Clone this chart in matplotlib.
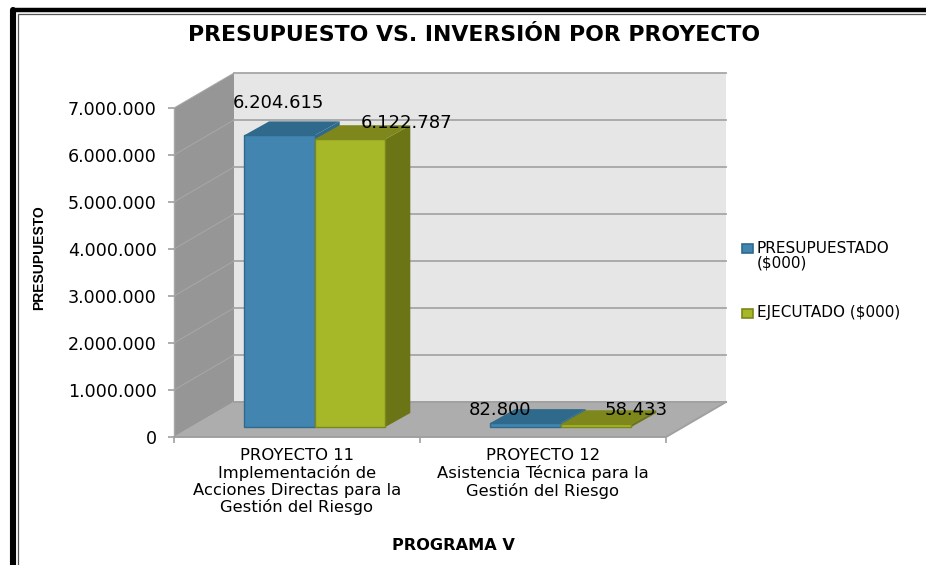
import matplotlib
matplotlib.use("Agg")
import matplotlib.pyplot as plt
from matplotlib.patches import Polygon, Rectangle

# data
categories = [
    "PROYECTO 11\nImplementación de\nAcciones Directas para la\nGestión del Riesgo",
    "PROYECTO 12\nAsistencia Técnica para la\nGestión del Riesgo",
]
presupuestado = [6204615, 82800]
ejecutado = [6122787, 58433]
value_labels = [["6.204.615", "82.800"], ["6.122.787", "58.433"]]
series_names = ["PRESUPUESTADO\n($000)", "EJECUTADO ($000)"]
yticks = [0, 1000000, 2000000, 3000000, 4000000, 5000000, 6000000, 7000000]
ytick_labels = ["0", "1.000.000", "2.000.000", "3.000.000", "4.000.000",
                "5.000.000", "6.000.000", "7.000.000"]

W, H = 926, 565
FONT = "DejaVu Sans"

# front plane of the chart in pixels
X0, X1, Y0, Y1 = 174, 666, 437, 108
DEPTH_X, DEPTH_Y = 60, 35  # px offset of the back wall
BAR_DX, BAR_DY = 25, 14  # px depth of each bar
BAR_OFF_X, BAR_OFF_Y = 15, 10  # px from the front edge of the floor to the bars

fig = plt.figure(figsize=(W / 100, H / 100), dpi=100, facecolor="white")
ax = fig.add_axes([X0 / W, 1 - Y0 / H, (X1 - X0) / W, (Y0 - Y1) / H])
ax.set_xlim(0, 2)
ax.set_ylim(0, 7000000)
ax.patch.set_visible(False)
for s in ax.spines.values():
    s.set_visible(False)

ux = 2 / (X1 - X0)  # data per px
uy = 7000000 / (Y0 - Y1)


def shift(x, y, dx, dy):
    # move a front plane point back into the depth, dx/dy in pixels
    return (x + dx * ux, y + dy * uy)


def poly(points, color, z, edge=None, lw=0.0):
    ax.add_patch(Polygon(points, closed=True, facecolor=color, edgecolor=edge or color,
                         linewidth=lw, zorder=z, clip_on=False))


def back(x, y):
    return shift(x, y, DEPTH_X, DEPTH_Y)


# walls and floor
poly([(0, 0), back(0, 0), back(0, 7000000), (0, 7000000)], "#969696", 1)
poly([back(0, 0), back(2, 0), back(2, 7000000), back(0, 7000000)], "#E6E6E6", 1)
poly([(0, 0), (2, 0), back(2, 0), back(0, 0)], "#ADADAD", 2)

# gridlines
for v in yticks:
    ax.plot(*zip((0, v), back(0, v)), color="#A8A8A8", lw=0.7, zorder=1.5, clip_on=False)
    ax.plot(*zip(back(0, v), back(2, v)), color="#A6A6A6", lw=1.3, zorder=1.5, clip_on=False)
ax.plot(*zip(back(0, 0), back(2, 0)), color="#A0A0A0", lw=1.3, zorder=3, clip_on=False)
ax.plot([0, 0], [0, 7000000], color="#A6A6A6", lw=1.0, zorder=3, clip_on=False)
ax.plot(*zip((0, 0), (2, 0), back(2, 0)), color="#A0A0A0", lw=1.4, zorder=3, clip_on=False)


def bar3d(x, w, v, front, top, side, z):
    base = lambda a, b: shift(a, b, BAR_OFF_X, BAR_OFF_Y)
    p0, p1 = base(x, 0), base(x + w, 0)
    p2, p3 = base(x + w, v), base(x, v)
    poly([p2, shift(*p2, BAR_DX, BAR_DY), shift(*p1, BAR_DX, BAR_DY), p1], side, z)
    poly([p3, p2, shift(*p2, BAR_DX, BAR_DY), shift(*p3, BAR_DX, BAR_DY)], top, z)
    poly([p0, p1, p2, p3], front, z + 0.1, edge=top, lw=1.0)


bar_w = 0.287
gap = 0.224
for i in range(2):
    bar3d(i + gap, bar_w, presupuestado[i], "#4285B0", "#2F6A8C", "#2F6A8C", 5)
    bar3d(i + gap + bar_w, bar_w, ejecutado[i], "#A6B727", "#7D871B", "#6B7515", 6)

# value labels, offsets in px from the top front centre of each bar
offsets = [[(-1, 32), (-25, 13)], [(57, 16), (40, 14)]]
for k, vals in enumerate([presupuestado, ejecutado]):
    for i, v in enumerate(vals):
        cx, cy = shift(i + gap + bar_w * (k + 0.5), v, BAR_OFF_X, BAR_OFF_Y)
        ox, oy = offsets[k][i]
        ax.annotate(value_labels[k][i], (cx, cy), xytext=(ox * 0.72, oy * 0.72),
                    textcoords="offset points", fontsize=13, family=FONT, color="black",
                    ha="center", va="center", zorder=10, clip_on=False)

# axis ticks and labels
ax.set_yticks(yticks)
ax.set_yticklabels(ytick_labels, fontsize=12.6, family=FONT)
ax.set_xticks([0, 1, 2])
ax.set_xticklabels(["", "", ""])
ax.tick_params(axis="both", length=4, width=1.2, color="#A0A0A0")
ax.tick_params(axis="y", pad=8.5)
for i, c in enumerate(categories):
    ax.annotate(c, (i + 0.5, 0), xytext=(0, -8), textcoords="offset points", ha="center",
                va="top", fontsize=11.8, family=FONT, linespacing=1.14)

fig.text(474 / W, 1 - 35 / H, "PRESUPUESTO VS. INVERSIÓN POR PROYECTO", ha="center",
         va="center", fontsize=15.8, fontweight="bold", family=FONT)
fig.text(453 / W, 1 - 546 / H, "PROGRAMA V", ha="center", va="center", fontsize=11.6,
         fontweight="bold", family=FONT)
fig.text(39 / W, 1 - 258 / H, "PRESUPUESTO", ha="center", va="center", rotation=90,
         fontsize=10, fontweight="bold", family="Liberation Sans")

# legend
for y, col, edge, txt, ty in [(248, "#4285B0", "#2F6A8C", series_names[0], 256),
                              (313, "#A6B727", "#7D871B", series_names[1], 313)]:
    fig.patches.append(Rectangle((741.5 / W, 1 - (y + 5) / H), 11 / W, 9 / H,
                                 facecolor=col, edgecolor=edge, linewidth=1.2,
                                 transform=fig.transFigure))
    fig.text(757 / W, 1 - ty / H, txt, ha="left", va="center", fontsize=11, family=FONT,
             linespacing=1.0)

# picture frame: thick black band and thin inner line
frame = fig.add_axes([0, 0, 1, 1], zorder=20)
frame.set_xlim(0, W)
frame.set_ylim(H, 0)
frame.axis("off")
frame.plot([13, 13], [H, 9.5], color="black", lw=4.4, solid_capstyle="round")
frame.plot([13, W], [9.5, 9.5], color="black", lw=3.2, solid_capstyle="round")
frame.plot([18, 18, W], [H, 13.5, 13.5], color="#555555", lw=0.9, solid_joinstyle="miter")

fig.savefig("out.png", dpi=100)
